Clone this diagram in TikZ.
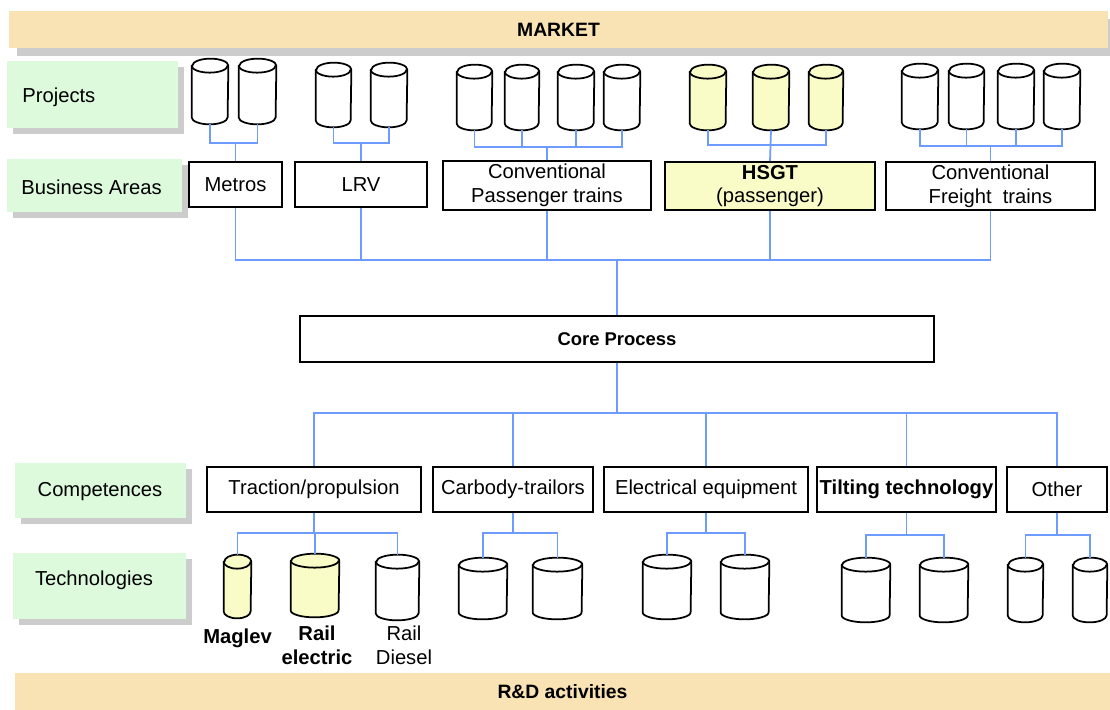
\documentclass[tikz,border=0pt]{standalone}
\usepackage{fontspec}
\setmainfont{Liberation Sans}
\usepackage{tikz}
\definecolor{bannerwheat}{RGB}{249, 227, 180}
\definecolor{layergreen}{RGB}{221, 250, 221}
\definecolor{hsgtyellow}{RGB}{250, 252, 200}
\definecolor{linkblue}{RGB}{110, 155, 255}
\definecolor{shadowgray}{RGB}{204, 204, 204}
\usetikzlibrary{shapes, shadows, calc}
\newcommand{\pxu}{0.02cm}
% drum: name, x, y, width, height, fill
\newcommand{\drum}[6]{%
  \node[minimum width=#4*\pxu, minimum height=#5*\pxu, inner sep=0pt] (#1) at (#2,#3) {};
  \filldraw[drumline, fill=#6] ($(#1.north west)+(0,7)$) -- ($(#1.south west)+(0,-7)$)
    arc[start angle=180, end angle=360, x radius=#4*0.01cm, y radius=7*\pxu]
    -- ($(#1.north east)+(0,7)$)
    arc[start angle=0, end angle=180, x radius=#4*0.01cm, y radius=7*\pxu] -- cycle;
  \draw[drumline] ($(#1.north west)+(0,7)$)
    arc[start angle=180, end angle=360, x radius=#4*0.01cm, y radius=7*\pxu];
}

\begin{document}
\begin{tikzpicture}[
    x=0.02cm, y=-0.02cm,
    every node/.style={font=\fontsize{11.5}{13.6}\selectfont},
    banner/.style={rectangle, fill=bannerwheat, minimum height=37*\pxu, font=\fontsize{11}{13}\selectfont\bfseries},
    layer/.style={rectangle, fill=layergreen, drop shadow={shadow xshift=0.12cm, shadow yshift=-0.12cm, fill=shadowgray, opacity=1}},
    area/.style={rectangle, draw, line width=0.9pt, fill=white, align=center, inner sep=0pt},
    drumline/.style={line width=1pt, line join=round},
    bus/.style={draw=linkblue, line width=1pt}
]
    \path[use as bounding box, fill=white] (0,0) rectangle (1110,710);

    % Market and R&D banners
    \node[banner, minimum width=1099*\pxu, drop shadow={shadow xshift=0.16cm, shadow yshift=-0.16cm, fill=shadowgray, opacity=1}] (market) at (558.5,29.5) {MARKET};
    \node[banner, minimum width=1095*\pxu] (rnd) at (562.5,691.5) {R\&D activities};

    % Layer labels
    \node[layer, minimum width=171*\pxu, minimum height=67*\pxu] (projects) at (92.5,94.5) {};
    \node[anchor=west, inner sep=0pt] (projlbl) at (22,97) {Projects};
    \node[layer, minimum width=175*\pxu, minimum height=53*\pxu] (areas) at (94.5,185.5) {};
    \node[anchor=west, inner sep=0pt] (areaslbl) at (21,187) {Business Areas};
    \node[layer, minimum width=171*\pxu, minimum height=55*\pxu] (comps) at (100.5,490.5) {};
    \node[inner sep=0pt] (compslbl) at (100,492) {Competences};
    \node[layer, minimum width=173*\pxu, minimum height=66*\pxu] (techs) at (99.5,586) {};
    \node[inner sep=0pt] (techslbl) at (94,580) {Technologies};

    % Projects
    \drum{pm1}{210}{91.5}{36}{65}{white}
    \drum{pm2}{257.5}{91.5}{37}{65}{white}
    \drum{pl1}{333.5}{95}{35}{64}{white}
    \drum{pl2}{389}{95}{36}{64}{white}
    \drum{pc1}{474.5}{97.5}{35}{65}{white}
    \drum{pc2}{522}{97.5}{34}{65}{white}
    \drum{pc3}{576}{97.5}{36}{65}{white}
    \drum{pc4}{622}{97.5}{36}{65}{white}
    \drum{ph1}{708}{97.5}{36}{65}{hsgtyellow}
    \drum{ph2}{771}{97.5}{36}{65}{hsgtyellow}
    \drum{ph3}{826}{97.5}{34}{65}{hsgtyellow}
    \drum{pf1}{920}{96.5}{36}{65}{white}
    \drum{pf2}{966.5}{96.5}{35}{65}{white}
    \drum{pf3}{1016}{96.5}{36}{65}{white}
    \drum{pf4}{1062}{96.5}{36}{65}{white}

    % Business areas
    \node[area, minimum width=93*\pxu, minimum height=45*\pxu] (metros) at (235.5,184.5) {Metros};
    \node[area, minimum width=132*\pxu, minimum height=45*\pxu] (lrv) at (361,184.5) {LRV};
    \node[area, minimum width=208*\pxu, minimum height=49*\pxu] (conv) at (547,185.5) {Conventional\\Passenger trains};
    \node[area, minimum width=210*\pxu, minimum height=48*\pxu, fill=hsgtyellow] (hsgt) at (770,186) {\textbf{HSGT}\\(passenger)};
    \node[area, minimum width=209*\pxu, minimum height=48*\pxu] (freight) at (990.5,186) {Conventional\\Freight\ \ trains};

    % Core process
    \node[area, minimum width=634*\pxu, minimum height=46*\pxu, font=\fontsize{10.5}{12}\selectfont\bfseries] (core) at (617,339) {Core Process};

    % Competences
    \node[area, minimum width=214*\pxu, minimum height=45*\pxu] (traction) at (314,489.5) {Traction/propulsion};
    \node[area, minimum width=160*\pxu, minimum height=45*\pxu] (carbody) at (513,489.5) {Carbody-trailors};
    \node[area, minimum width=204*\pxu, minimum height=45*\pxu] (elec) at (706,489.5) {Electrical equipment};
    \node[area, minimum width=179*\pxu, minimum height=45*\pxu] (tilt) at (906.5,489.5) {\textbf{Tilting technology}};
    \node[area, minimum width=100*\pxu, minimum height=45*\pxu] (other) at (1057,489.5) {Other};

    % Technologies
    \drum{tm}{237.5}{586.5}{27}{63}{hsgtyellow}
    \drum{te}{315}{585.5}{48}{63}{hsgtyellow}
    \drum{td}{397.5}{587.5}{43}{65}{white}
    \drum{tc1}{483}{588.5}{48}{61}{white}
    \drum{tc2}{557.5}{588.5}{49}{61}{white}
    \drum{tq1}{667}{587}{48}{64}{white}
    \drum{tq2}{745}{587}{48}{64}{white}
    \drum{tt1}{866}{590}{48}{64}{white}
    \drum{tt2}{944}{590}{48}{64}{white}
    \drum{to1}{1025.5}{590}{35}{64}{white}
    \drum{to2}{1090}{590}{34}{64}{white}

    \node[font=\fontsize{11.5}{13.6}\selectfont\bfseries] (maglevlbl) at (237.5,638) {Maglev};
    \node[align=center, font=\fontsize{11.5}{13.6}\selectfont\bfseries] (elelbl) at (317,645) {Rail\\electric};
    \node[align=center] (diesellbl) at (404,645) {Rail\\Diesel};

    % Projects -> business areas
    \draw[bus] (pm1.south) |- (pm2.south |- 0,143) -- (pm2.south);
    \draw[bus] (metros.north) -- (metros.north |- 0,143);
    \draw[bus] (pl1.south) |- (pl2.south |- 0,143) -- (pl2.south);
    \draw[bus] (lrv.north) -- (lrv.north |- 0,143);
    \draw[bus] (pc1.south) |- (pc4.south |- 0,147) -- (pc4.south);
    \foreach \c in {pc2, pc3} \draw[bus] (\c.south) -- (\c.south |- 0,147);
    \draw[bus] (conv.north) -- (conv.north |- 0,147);
    \draw[bus] (ph1.south) |- (ph3.south |- 0,145) -- (ph3.south);
    \draw[bus] (ph2.south) -- (hsgt.north);
    \draw[bus] (pf1.south) |- (pf4.south |- 0,146) -- (pf4.south);
    \foreach \c in {pf2, pf3} \draw[bus] (\c.south) -- (\c.south |- 0,146);
    \draw[bus] (freight.north) -- (freight.north |- 0,146);

    % Business areas -> core
    \draw[bus] (metros.south) |- (freight.south |- 0,260) -- (freight.south);
    \foreach \c in {lrv, conv, hsgt} \draw[bus] (\c.south) -- (\c.south |- 0,260);
    \draw[bus] (core.north) -- (core.north |- 0,260);

    % Core -> competences
    \draw[bus] (core.south) -- (core.south |- 0,413);
    \draw[bus] (traction.north) |- (other.north |- 0,413) -- (other.north);
    \foreach \c in {carbody, elec, tilt} \draw[bus] (\c.north) -- (\c.north |- 0,413);

    % Competences -> technologies
    \draw[bus] (traction.south) -- (traction.south |- 0,533);
    \draw[bus] (tm.north) |- (td.north |- 0,533) -- (td.north);
    \draw[bus] (te.north) -- (te.north |- 0,533);
    \draw[bus] (carbody.south) -- (carbody.south |- 0,533);
    \draw[bus] (tc1.north) |- (tc2.north |- 0,533) -- (tc2.north);
    \draw[bus] (elec.south) -- (elec.south |- 0,533);
    \draw[bus] (tq1.north) |- (tq2.north |- 0,533) -- (tq2.north);
    \draw[bus] (tilt.south) -- (tilt.south |- 0,535);
    \draw[bus] (tt1.north) |- (tt2.north |- 0,535) -- (tt2.north);
    \draw[bus] (other.south) -- (other.south |- 0,535);
    \draw[bus] (to1.north) |- (to2.north |- 0,535) -- (to2.north);
\end{tikzpicture}
\end{document}
